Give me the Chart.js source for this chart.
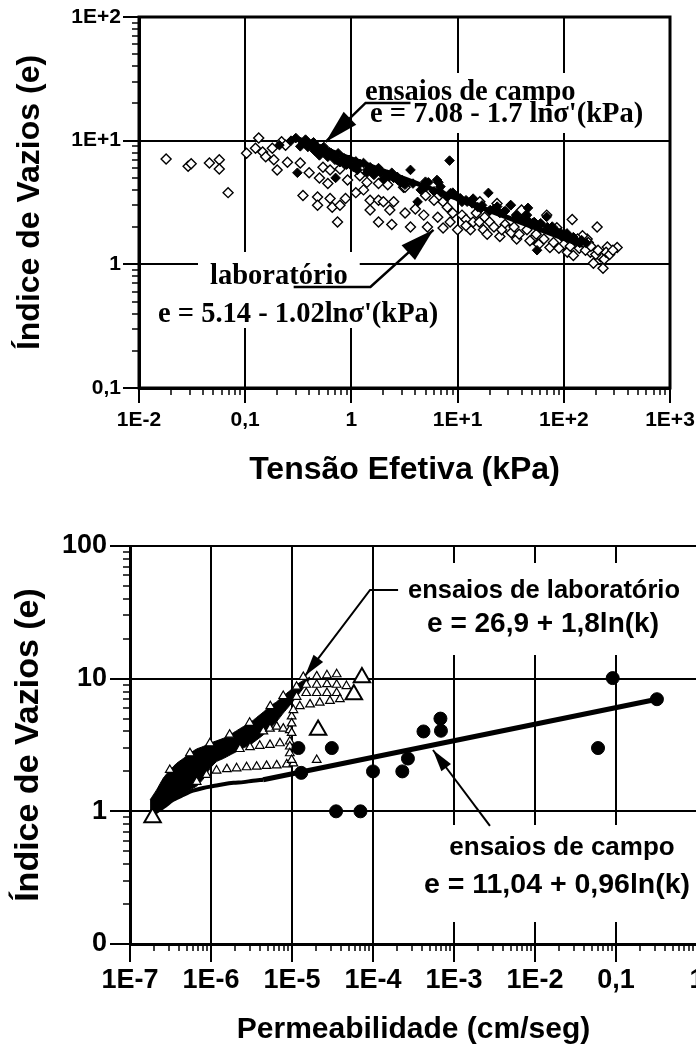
<!DOCTYPE html>
<html>
<head>
<meta charset="utf-8">
<script src="https://cdn.jsdelivr.net/npm/chart.js@4.4.1/dist/chart.umd.min.js"></script>
<style>
  html, body { margin: 0; padding: 0; background: #fff; overflow: hidden; }
  #wrap { position: relative; width: 696px; height: 1053px; overflow: hidden; background: #fff; }
  #topChart { position: absolute; left: 0; top: 0; }
  #bottomChart { position: absolute; left: 0; top: 500px; }
</style>
</head>
<body>
<div id="wrap">
  <canvas id="topChart" width="696" height="500"></canvas>
  <canvas id="bottomChart" width="730" height="553"></canvas>
</div>
<script>
// ===============================
// DATA - top chart (void ratio x effective stress)
// ===============================
const topXTicks = [0.01, 0.1, 1, 10, 100, 1000];
const topXLabels = ['1E-2', '0,1', '1', '1E+1', '1E+2', '1E+3'];
const topYTicks = [0.1, 1, 10, 100];
const topYLabels = ['0,1', '1', '1E+1', '1E+2'];

// laboratory tests (open diamonds)
const labSigma = [0.018, 0.029, 0.031, 0.046, 0.057, 0.057, 0.069,
  0.103, 0.125, 0.134, 0.146, 0.156, 0.18, 0.186, 0.2, 0.22, 0.24, 0.25, 0.33, 0.4, 0.35, 0.48, 0.48, 0.63, 0.66, 0.78, 0.88, 0.74, 0.54, 0.63, 0.78, 0.92, 1.2, 1.4, 1.5, 1.8, 2.0, 2.5, 1.5, 2.3, 1.8, 2.4, 1.8, 2.2, 3.1,
  3.2, 3.2, 3.6, 5.2, 4.8, 7.3, 7.3, 10, 13.2, 16.2, 23.5, 17.5, 25, 36, 40, 69, 51, 74, 108, 120, 86, 206, 318, 257, 166, 178, 234, 190, 123, 222,
  5, 6, 8, 9, 11, 12, 14, 15, 18, 20, 22, 28, 30, 32, 45, 55, 60, 65, 80, 95, 100, 130, 140, 150, 160, 170, 200, 240, 250, 1.1, 1.3, 0.6, 0.5,
  4, 6.5, 8.5, 12, 16, 19, 26, 34, 38, 48, 58, 90, 115, 135, 180, 210, 270, 290];
const labE = [7.1, 6.2, 6.5, 6.6, 7.0, 5.9, 3.8,
  7.9, 8.7, 10.5, 8.1, 7.4, 8.7, 7.0, 5.8, 9.8, 9.2, 6.7, 6.6, 5.5, 3.6, 3.5, 3.0, 3.4, 2.9, 3.0, 3.4, 2.2, 6.1, 5.8, 5.9, 4.8, 5.2, 4.6, 3.3, 3.3, 3.2, 3.2, 2.75, 2.75, 2.2, 2.1, 4.5, 4.4, 4.2,
  4.2, 2.6, 2.0, 2.0, 2.5, 1.97, 3.2, 1.9, 1.9, 3.2, 3.1, 1.9, 1.68, 1.6, 2.75, 2.5, 1.6, 1.37, 1.25, 2.3, 1.98, 2.0, 1.37, 1.38, 1.6, 1.25, 0.93, 1.02, 1.18, 1.15,
  3.6, 3.3, 2.9, 2.6, 2.5, 2.3, 2.2, 2.6, 2.4, 2.2, 2.0, 2.1, 1.9, 1.8, 1.9, 1.75, 2.0, 1.6, 1.5, 1.7, 1.45, 1.45, 1.35, 1.7, 1.3, 1.5, 1.2, 1.1, 1.25, 3.8, 4.0, 4.5, 5.0,
  2.8, 2.4, 2.2, 2.05, 2.2, 1.75, 1.9, 2.0, 1.75, 1.55, 1.45, 1.35, 1.4, 1.6, 1.4, 1.3, 1.2, 1.3];

// field tests (filled diamonds)
const fieldSigma = [0.21, 0.3, 0.31, 0.71, 0.35, 0.39, 0.42, 0.45, 0.48, 0.52, 0.6, 0.65, 0.78, 0.85, 1.05, 1.2, 1.6, 1.8, 2.2, 2.9,
  3.6, 5.3, 6.6, 8.4, 19.5, 4.2, 31.6, 46, 69, 56, 10, 15.5, 25, 51, 93, 141, 4.5, 7, 12, 20,
  35, 70, 110, 0.27, 0.33, 0.37, 0.44, 0.5, 0.56, 0.7, 0.9, 1.1, 1.4, 2.5, 3.2, 2.0,
  0.38, 0.46, 0.55, 0.62, 0.75, 0.95, 1.3, 1.5, 1.7, 2.4, 2.7, 3.0, 3.8, 5, 6, 8, 9, 11, 14, 17, 22, 28, 40, 45, 60, 80, 100, 120, 130,
  4.98, 6.4, 6.9, 8.55, 10.6, 12.3, 13.7, 16.6, 20.3, 23.6, 27.3, 31.6, 35.5, 45.5, 52.6, 60.6, 77.8, 86.3, 107, 123, 147, 163,
  0.385, 0.44, 0.54, 0.63, 0.73, 0.85, 0.98, 1.14, 1.41, 1.63, 1.89, 2.27, 2.73, 3.1];
const fieldE = [9.2, 10.5, 5.5, 5.0, 9.6, 8.9, 9.4, 8.3, 8.1, 8.6, 7.4, 7.9, 6.7, 7.2, 6.1, 6.5, 5.8, 6.0, 5.3, 4.6,
  5.8, 4.6, 4.6, 6.9, 3.78, 3.2, 3.0, 2.86, 2.42, 1.3, 3.5, 2.9, 2.6, 2.16, 1.8, 1.49, 4.0, 3.8, 3.3, 2.7,
  2.35, 2.0, 1.65, 10.0, 9.0, 10.2, 9.7, 7.6, 8.2, 7.0, 6.4, 6.8, 5.5, 5.0, 4.4, 4.9,
  9.9, 9.2, 8.9, 8.1, 7.9, 7.0, 6.6, 6.1, 5.6, 5.5, 5.1, 4.8, 4.5, 4.2, 3.9, 3.5, 3.8, 3.2, 3.4, 3.0, 2.8, 2.7, 2.3, 2.5, 2.1, 1.9, 1.75, 1.6, 1.55,
  4.66, 4.81, 4.25, 3.76, 3.42, 3.21, 3.11, 2.84, 2.75, 2.93, 2.66, 3.02, 2.5, 2.28, 2.2, 2.15, 2.02, 1.84, 1.78, 1.66, 1.57, 1.48,
  9.53, 8.7, 8.15, 7.66, 6.98, 6.77, 6.37, 5.8, 5.8, 5.28, 5.5, 5.12, 4.81, 4.52];

// field fit line, end points
const fieldFitSigma = [0.3, 150];
const fieldFitE = [10.5, 1.42];

// ===============================
// DATA - bottom chart (void ratio x permeability)
// ===============================
const botXTicks = [1e-7, 1e-6, 1e-5, 1e-4, 1e-3, 1e-2, 0.1, 1];
const botXLabels = ['1E-7', '1E-6', '1E-5', '1E-4', '1E-3', '1E-2', '0,1', '1'];
const botYTicks = [0.1, 1, 10, 100];
const botYLabels = ['0', '1', '10', '100'];

// dense band of laboratory triangles (upper / lower edge)
const bandK = [1.77e-7, 2.13e-7, 2.58e-7, 3.12e-7, 3.77e-7, 4.55e-7, 5.5e-7, 6.65e-7, 8.0e-7, 9.7e-7, 1.17e-6, 1.42e-6, 1.72e-6,
  2.07e-6, 2.5e-6, 3.03e-6, 3.66e-6, 4.43e-6, 5.35e-6, 6.47e-6, 7.8e-6, 9.4e-6, 1.14e-5, 1.38e-5, 1.67e-5];
const bandUpperE = [1.22, 1.45, 1.78, 2.05, 2.3, 2.5, 2.74, 2.95, 3.08, 3.26, 3.4, 3.55, 3.78,
  4.05, 4.35, 4.65, 5.1, 5.6, 6.2, 6.7, 7.4, 8.1, 9.0, 9.7, 10.3];
const bandLowerE = [0.95, 1.0, 1.08, 1.17, 1.27, 1.36, 1.45, 1.55, 1.75, 2.1, 2.37, 2.5, 2.66,
  2.82, 3.0, 3.17, 3.45, 3.78, 4.2, 4.75, 5.5, 6.3, 7.3, 8.5, 10.0];

// lower envelope of the laboratory points
const edgeK = [1.9e-7, 2.6e-7, 3.4e-7, 4.55e-7, 6e-7, 8e-7, 1.07e-6, 1.42e-6, 1.9e-6, 2.5e-6, 3.3e-6, 4.4e-6];
const edgeE = [0.95, 1.08, 1.22, 1.33, 1.43, 1.5, 1.55, 1.6, 1.64, 1.66, 1.7, 1.73];

// laboratory tests (open triangles)
const labK = [6.65e-7, 8.8e-7, 1.17e-6, 1.57e-6, 2.07e-6, 2.75e-6, 3.66e-6, 4.85e-6, 6.47e-6, 8.6e-6, 1.04e-5, 2.02e-5,
  2.27e-6, 3.03e-6, 4e-6, 5.35e-6, 7.1e-6, 9.4e-6,
  4.43e-6, 5.35e-6, 6.47e-6, 7.8e-6, 9.4e-6,
  9.9e-6, 9.9e-6, 9.9e-6, 9.4e-6, 9.4e-6, 9.9e-6,
  1.38e-5, 2.02e-5, 2.7e-5, 3.56e-5,
  1.14e-5, 1.5e-5, 2.02e-5, 2.7e-5, 3.56e-5, 4.7e-5,
  1.14e-5, 1.5e-5, 2.02e-5, 2.7e-5, 3.56e-5,
  1.04e-5, 1.25e-5, 1.67e-5, 2.2e-5, 2.94e-5, 3.9e-5,
  3.1e-7, 5.5e-7, 9.7e-7, 1.7e-6, 3.0e-6, 5.4e-6, 7.8e-6];
const labKE = [1.67, 1.88, 2.03, 2.08, 2.11, 2.15, 2.17, 2.2, 2.22, 2.26, 2.3, 2.44,
  2.95, 3.05, 3.12, 3.17, 3.26, 3.36,
  4.0, 4.2, 4.35, 4.2, 4.1,
  5.2, 4.6, 3.9, 3.08, 2.74, 2.44,
  10.3, 10.4, 10.6, 10.8,
  8.7, 9.0, 9.0, 9.1, 9.0, 8.8,
  7.3, 7.8, 7.8, 7.8, 7.8,
  5.8, 6.2, 6.4, 6.6, 6.8, 7.0,
  2.05, 2.74, 3.26, 3.78, 4.65, 6.2, 7.4];

// large triangles
const bigK = [1.9e-7, 2.1e-5, 5.8e-5, 7.3e-5];
const bigE = [0.9, 4.1, 7.6, 10.2];

// field tests (filled circles)
const campoK = [1.2e-5, 3.1e-5, 1.3e-5, 3.5e-5, 7e-5, 1e-4, 2.3e-4, 2.7e-4, 4.2e-4, 6.8e-4, 6.9e-4, 0.06, 0.091, 0.32];
const campoE = [3.0, 3.0, 1.95, 1.0, 1.0, 2.0, 2.0, 2.5, 4.0, 5.0, 4.05, 3.0, 10.1, 7.0];

// field fit line, end points
const campoFitK = [4.4e-6, 0.32];
const campoFitE = [1.73, 7.0];

// ===============================
// HELPERS
// ===============================
const pts = (xs, ys) => xs.map((x, i) => ({ x, y: ys[i] }));
const sans = "'Liberation Sans', Arial, sans-serif";
const axisFont = size => ({ family: sans, weight: 'bold', size });

// 1..9 x 10^n ticks, major at each decade
function decadeTicks(majors) {
  const out = [];
  majors.forEach((v, i) => {
    out.push({ value: v, major: true });
    if (i < majors.length - 1) {
      for (let m = 2; m <= 9; m++) out.push({ value: v * m, major: false });
    }
  });
  return out;
}

function labelFor(v, ticks, labels) {
  const i = ticks.findIndex(t => Math.abs(Math.log10(t) - Math.log10(v)) < 1e-6);
  return i < 0 ? '' : labels[i];
}

function logAxis(o) {
  return {
    type: 'logarithmic',
    min: o.ticks[0],
    max: o.ticks[o.ticks.length - 1],
    afterBuildTicks: s => { s.ticks = decadeTicks(o.ticks); },
    afterFit: s => {
      // fixed axis box, layout padding alone places the plot area
      if (o.isX) s.height = o.size; else s.width = o.size;
      s.paddingTop = s.paddingBottom = s.paddingLeft = s.paddingRight = 0;
    },
    border: { display: true, color: '#000', width: 3 },
    grid: {
      color: c => (c.tick && c.tick.major) ? '#000' : 'rgba(0,0,0,0)',
      lineWidth: 2,
      tickColor: '#000',
      tickWidth: 1.5,
      tickLength: 7
    },
    ticks: {
      autoSkip: false, maxRotation: 0, minRotation: 0,
      padding: o.pad, color: '#000', font: axisFont(o.fontSize),
      callback: v => labelFor(v, o.ticks, o.labels)
    },
    title: { display: true, text: o.title, color: '#000', font: axisFont(o.titleSize), padding: o.titlePad }
  };
}

// ===============================
// ANNOTATIONS / FRAME PLUGIN
// ===============================
function drawArrow(ctx, p, head, half, width) {
  ctx.lineWidth = width;
  ctx.beginPath();
  ctx.moveTo(p[0][0], p[0][1]);
  for (let i = 1; i < p.length; i++) ctx.lineTo(p[i][0], p[i][1]);
  ctx.stroke();
  const [x1, y1] = p[p.length - 2];
  const [x2, y2] = p[p.length - 1];
  const a = Math.atan2(y2 - y1, x2 - x1);
  const bx = x2 - head * Math.cos(a), by = y2 - head * Math.sin(a);
  ctx.beginPath();
  ctx.moveTo(x2, y2);
  ctx.lineTo(bx + half * Math.sin(a), by - half * Math.cos(a));
  ctx.lineTo(bx - half * Math.sin(a), by + half * Math.cos(a));
  ctx.closePath();
  ctx.fill();
}

const notesPlugin = {
  id: 'notes',
  afterDatasetsDraw(chart, args, opts) {
    const ctx = chart.ctx;
    const sx = chart.scales.x, sy = chart.scales.y;
    ctx.save();
    ctx.textBaseline = 'alphabetic';
    const texts = opts.texts || [];
    // white boxes behind the labels hide the grid
    texts.forEach(t => {
      ctx.font = t.font;
      const w = ctx.measureText(t.text).width;
      const left = t.align === 'center' ? t.x - w / 2 : t.x;
      ctx.fillStyle = '#fff';
      ctx.fillRect(left - t.padX, t.y - t.padTop, w + 2 * t.padX, t.padTop + t.padBottom);
    });
    texts.forEach(t => {
      ctx.font = t.font;
      ctx.fillStyle = '#000';
      ctx.textAlign = t.align || 'left';
      ctx.fillText(t.text, t.x, t.y);
    });
    ctx.strokeStyle = '#000';
    ctx.fillStyle = '#000';
    (opts.arrows || []).forEach(a => {
      const p = a.pts.map(q => [sx.getPixelForValue(q[0]), sy.getPixelForValue(q[1])]);
      drawArrow(ctx, p, a.head, a.half, a.width);
    });
    ctx.restore();
  },
  afterDraw(chart, args, opts) {
    const { ctx, chartArea: a } = chart;
    const sx = chart.scales.x, sy = chart.scales.y;
    ctx.save();
    ctx.strokeStyle = '#000';
    ctx.lineWidth = 2;
    ctx.beginPath();
    sx.ticks.filter(t => t.major).forEach(t => {
      const p = Math.round(sx.getPixelForValue(t.value));
      ctx.moveTo(p, a.bottom);
      ctx.lineTo(p, a.bottom + opts.majorX);
    });
    sy.ticks.filter(t => t.major).forEach(t => {
      const p = Math.round(sy.getPixelForValue(t.value));
      ctx.moveTo(a.left, p);
      ctx.lineTo(a.left - opts.majorY, p);
    });
    ctx.stroke();
    if (opts.frame) {
      ctx.lineWidth = opts.frame;
      ctx.strokeRect(a.left, a.top, a.right - a.left, a.bottom - a.top);
    } else {
      ctx.lineWidth = opts.topLine;
      ctx.beginPath();
      ctx.moveTo(a.left, a.top);
      ctx.lineTo(a.right, a.top);
      ctx.stroke();
    }
    ctx.restore();
  }
};
Chart.register(notesPlugin);

// ===============================
// TOP CHART
// ===============================
const serif = "bold 28.5px 'Liberation Serif', 'Times New Roman', serif";

new Chart(document.getElementById('topChart'), {
  type: 'scatter',
  data: {
    datasets: [
      {
        label: 'ajuste campo',
        data: pts(fieldFitSigma, fieldFitE),
        showLine: true, pointRadius: 0, borderColor: '#000', borderWidth: 5, order: 0
      },
      {
        label: 'ensaios de campo',
        data: pts(fieldSigma, fieldE),
        pointStyle: 'rectRot', pointRadius: 4.8, backgroundColor: '#000', borderColor: '#000', borderWidth: 1, order: 1
      },
      {
        label: 'laboratório',
        data: pts(labSigma, labE),
        pointStyle: 'rectRot', pointRadius: 5, backgroundColor: '#fff', borderColor: '#000', borderWidth: 1.4, order: 2
      }
    ]
  },
  options: {
    responsive: false,
    animation: false,
    events: [],
    layout: { padding: { top: 17, right: 26, left: 0, bottom: 0 } },
    plugins: {
      legend: { display: false },
      tooltip: { enabled: false },
      notes: {
        majorX: 15, majorY: 16, frame: 3,
        texts: [
          { text: 'ensaios de campo', x: 365, y: 100, font: serif, padX: 8, padTop: 27, padBottom: 11 },
          { text: "e = 7.08 - 1.7 lnσ'(kPa)", x: 370, y: 122, font: serif, padX: 8, padTop: 27, padBottom: 11 },
          { text: 'laboratório', x: 210, y: 284, font: serif, padX: 12, padTop: 32, padBottom: 6 },
          { text: "e = 5.14 - 1.02lnσ'(kPa)", x: 158, y: 322, font: serif, padX: 8, padTop: 32, padBottom: 6 }
        ],
        arrows: [
          { pts: [[3.6, 20.2], [1.36, 20.2], [0.572, 9.76]], head: 34, half: 9, width: 2.5 },
          { pts: [[0.286, 0.656], [1.51, 0.656], [5.93, 1.9]], head: 34, half: 10, width: 2.5 }
        ]
      }
    },
    scales: {
      x: logAxis({ isX: true, ticks: topXTicks, labels: topXLabels, size: 112, pad: 13, fontSize: 21,
        title: 'Tensão Efetiva (kPa)', titleSize: 32, titlePad: { top: 0, bottom: 11 } }),
      y: logAxis({ isX: false, ticks: topYTicks, labels: topYLabels, size: 139, pad: 11, fontSize: 21,
        title: 'Índice de Vazios (e)', titleSize: 32, titlePad: { top: 11, bottom: 0 } })
    }
  }
});

// ===============================
// BOTTOM CHART
// ===============================
const sansNote = size => "bold " + size + "px 'Liberation Sans', Arial, sans-serif";

new Chart(document.getElementById('bottomChart'), {
  type: 'scatter',
  data: {
    datasets: [
      {
        label: 'ensaios de campo',
        data: pts(campoK, campoE),
        pointStyle: 'circle', pointRadius: 6.5, backgroundColor: '#000', borderColor: '#000', borderWidth: 1, order: 0
      },
      {
        label: 'ajuste campo',
        data: pts(campoFitK, campoFitE),
        showLine: true, pointRadius: 0, borderColor: '#000', borderWidth: 5, order: 1
      },
      {
        label: 'laboratório (grandes)',
        data: pts(bigK, bigE),
        pointStyle: 'triangle', pointRadius: 9.5, backgroundColor: '#fff', borderColor: '#000', borderWidth: 2, order: 2
      },
      {
        label: 'ensaios de laboratório',
        data: pts(labK, labKE),
        pointStyle: 'triangle', pointRadius: 5, backgroundColor: '#fff', borderColor: '#000', borderWidth: 1.2, order: 3
      },
      {
        label: 'envoltória',
        data: pts(edgeK, edgeE),
        showLine: true, pointRadius: 0, borderColor: '#000', borderWidth: 4, tension: 0.3, order: 4
      },
      {
        label: 'faixa superior',
        data: pts(bandK, bandUpperE),
        showLine: true, pointRadius: 0, borderColor: '#000', borderWidth: 1, tension: 0.2, order: 6
      },
      {
        label: 'faixa inferior',
        data: pts(bandK, bandLowerE),
        showLine: true, pointRadius: 0, borderColor: '#000', borderWidth: 1, tension: 0.2,
        fill: '-1', backgroundColor: '#000', order: 5
      }
    ]
  },
  options: {
    responsive: false,
    animation: false,
    events: [],
    layout: { padding: { top: 46, right: 33, left: 0, bottom: 0 } },
    plugins: {
      legend: { display: false },
      tooltip: { enabled: false },
      notes: {
        majorX: 18, majorY: 20, frame: 0, topLine: 2,
        texts: [
          { text: 'ensaios de laboratório', x: 544, y: 98, align: 'center', font: sansNote(25.5), padX: 8, padTop: 35, padBottom: 23 },
          { text: 'e = 26,9 + 1,8ln(k)', x: 543, y: 132, align: 'center', font: sansNote(28), padX: 8, padTop: 35, padBottom: 23 },
          { text: 'ensaios de campo', x: 562, y: 355, align: 'center', font: sansNote(26), padX: 8, padTop: 30, padBottom: 29 },
          { text: 'e = 11,04 + 0,96ln(k)', x: 557, y: 393, align: 'center', font: sansNote(28.5), padX: 8, padTop: 30, padBottom: 29 }
        ],
        arrows: [
          { pts: [[2.04e-4, 46.6], [9.2e-5, 46.6], [1.45e-5, 10.5]], head: 22, half: 6, width: 2 },
          { pts: [[2.78e-3, 0.776], [5.5e-4, 2.9]], head: 22, half: 6, width: 2 }
        ]
      }
    },
    scales: {
      x: logAxis({ isX: true, ticks: botXTicks, labels: botXLabels, size: 109, pad: 13, fontSize: 27,
        title: 'Permeabilidade (cm/seg)', titleSize: 30, titlePad: { top: 0, bottom: 5 } }),
      y: logAxis({ isX: false, ticks: botYTicks, labels: botYLabels, size: 130, pad: 16, fontSize: 27,
        title: 'Índice de Vazios (e)', titleSize: 34, titlePad: { top: 8, bottom: 0 } })
    }
  }
});
</script>
</body>
</html>
